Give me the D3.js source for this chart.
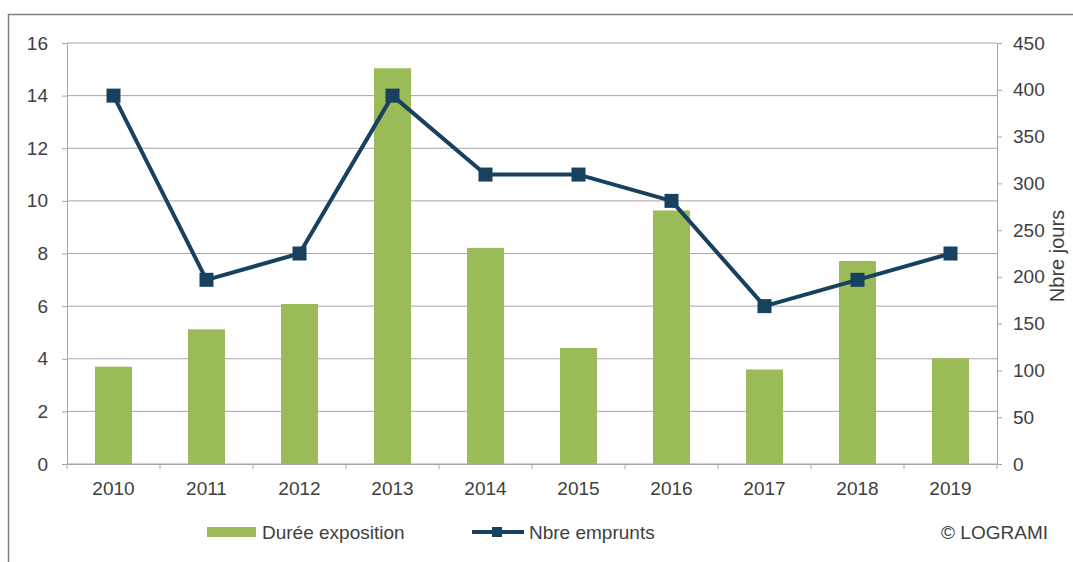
<!DOCTYPE html>
<html><head><meta charset="utf-8">
<script src="https://cdn.jsdelivr.net/npm/d3@7"></script>
<style>body{margin:0;background:#fff;}svg{display:block;}</style>
</head><body>
<script>
const years = ["2010","2011","2012","2013","2014","2015","2016","2017","2018","2019"];
const dureeExposition = [104, 144, 171, 423, 231, 124, 271, 101, 217, 113]; // Nbre jours (right axis)
const nbreEmprunts = [14, 7, 8, 14, 11, 11, 10, 6, 7, 8]; // left axis
const leftTicks = [0,2,4,6,8,10,12,14,16];
const rightTicks = [0,50,100,150,200,250,300,350,400,450];

const W = 1073, H = 562;
const m = {left: 67, right: 997, top: 43, bottom: 464};
const svg = d3.select("body").append("svg").attr("width", W).attr("height", H);
const font = "Liberation Sans, Arial, sans-serif";
const fs = 19;

// frame
svg.append("rect").attr("x", 8.5).attr("y", 14.5).attr("width", W).attr("height", H)
  .attr("fill", "#fff").attr("stroke", "#7f7f7f").attr("stroke-width", 1.5);

const x = d3.scaleBand().domain(years).range([m.left, m.right]);
const yL = d3.scaleLinear().domain([0,16]).range([m.bottom, m.top]);
const yR = d3.scaleLinear().domain([0,450]).range([m.bottom, m.top]);

// gridlines
svg.append("g").selectAll("line").data(leftTicks).join("line")
  .attr("x1", m.left).attr("x2", m.right)
  .attr("y1", d => yL(d)).attr("y2", d => yL(d))
  .attr("stroke", "#a6a6a6").attr("stroke-width", 1);

// bars
const bw = 37;
svg.append("g").selectAll("rect").data(years).join("rect")
  .attr("x", d => x(d) + x.bandwidth()/2 - bw/2)
  .attr("width", bw)
  .attr("y", (d,i) => yR(dureeExposition[i]))
  .attr("height", (d,i) => yR(0) - yR(dureeExposition[i]))
  .attr("fill", "#9bbb59");

// left axis
const gL = svg.append("g").attr("transform", `translate(${m.left},0)`)
  .call(d3.axisLeft(yL).tickValues(leftTicks).tickSize(5).tickPadding(14));
// right axis
const gR = svg.append("g").attr("transform", `translate(${m.right},0)`)
  .call(d3.axisRight(yR).tickValues(rightTicks).tickSize(5).tickPadding(11));
// bottom axis
const gB = svg.append("g").attr("transform", `translate(0,${m.bottom})`)
  .call(d3.axisBottom(x).tickSize(0).tickPadding(18));
// category separator ticks
svg.append("g").selectAll("line").data(d3.range(years.length + 1)).join("line")
  .attr("x1", i => m.left + i * x.step()).attr("x2", i => m.left + i * x.step())
  .attr("y1", m.bottom).attr("y2", m.bottom + 5)
  .attr("stroke", "#a6a6a6");

[gL, gR, gB].forEach(g => {
  g.select(".domain").attr("stroke", "#a6a6a6");
  g.selectAll(".tick line").attr("stroke", "#a6a6a6");
  g.selectAll("text").attr("font-family", font).attr("font-size", fs).attr("fill", "#404040");
});
gR.selectAll("text").attr("text-anchor", "start");

// line
const lineGen = d3.line().x((d,i) => x(years[i]) + x.bandwidth()/2).y(d => yL(d));
svg.append("path").datum(nbreEmprunts).attr("d", lineGen)
  .attr("fill", "none").attr("stroke", "#17415f").attr("stroke-width", 4)
  .attr("stroke-linejoin", "round");
svg.append("g").selectAll("rect").data(nbreEmprunts).join("rect")
  .attr("x", (d,i) => x(years[i]) + x.bandwidth()/2 - 7)
  .attr("y", d => yL(d) - 7)
  .attr("width", 14).attr("height", 14).attr("fill", "#17415f");

// right axis title
svg.append("text").attr("transform", "translate(1064,256) rotate(-90)")
  .attr("text-anchor", "middle").attr("font-family", font).attr("font-size", 20)
  .attr("fill", "#404040").text("Nbre jours");

// legend
svg.append("rect").attr("x", 207).attr("y", 527).attr("width", 49).attr("height", 10).attr("fill", "#9bbb59");
svg.append("text").attr("x", 262).attr("y", 539).attr("font-family", font).attr("font-size", fs)
  .attr("fill", "#404040").text("Durée exposition");
svg.append("line").attr("x1", 472).attr("x2", 524).attr("y1", 532).attr("y2", 532)
  .attr("stroke", "#17415f").attr("stroke-width", 4);
svg.append("rect").attr("x", 492).attr("y", 527).attr("width", 10).attr("height", 10).attr("fill", "#17415f");
svg.append("text").attr("x", 529).attr("y", 539).attr("font-family", font).attr("font-size", fs)
  .attr("fill", "#404040").text("Nbre emprunts");
svg.append("text").attr("x", 1048).attr("y", 539).attr("text-anchor", "end").attr("font-family", font).attr("font-size", fs)
  .attr("fill", "#404040").text("© LOGRAMI");
</script>
</body></html>
